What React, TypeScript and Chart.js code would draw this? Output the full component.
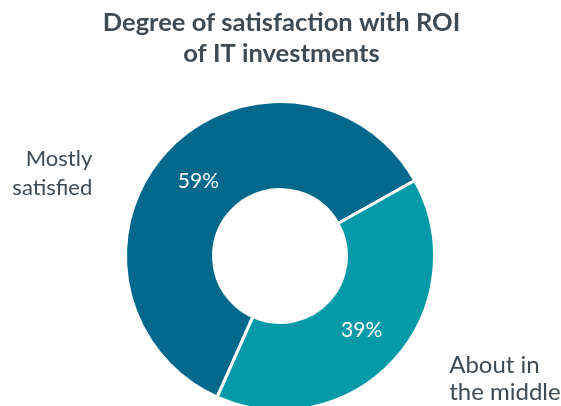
import React, { useEffect, useRef } from "react";
import { Chart, registerables } from "chart.js";

Chart.register(...registerables);

const titleLines = ["Degree of satisfaction with ROI", "of IT investments"];
const categories = ["Mostly satisfied", "About in the middle"];
const categoryLabelLines = [["Mostly", "satisfied"], ["About in", "the middle"]];
const values = [59, 39];
const colors = ["#02688C", "#049AA8"];
const textColor = "#3E4A54";
const FONT = "Lato, 'Open Sans', sans-serif";

const labelPlugin = {
  id: "labelPlugin",
  afterDatasetsDraw(chart: any) {
    const ctx = chart.ctx as CanvasRenderingContext2D;
    const meta = chart.getDatasetMeta(0);
    const arcs = meta.data as any[];
    if (!arcs.length) return;
    ctx.save();
    // Title
    ctx.fillStyle = textColor;
    ctx.font = `bold 25.5px ${FONT}`;
    ctx.textAlign = "center";
    ctx.textBaseline = "alphabetic";
    titleLines.forEach((t, i) => ctx.fillText(t, chart.width / 2 + 1, 31 + i * 31));

    // Percent labels inside slices
    ctx.fillStyle = "#ffffff";
    ctx.font = `21px ${FONT}`;
    ctx.textAlign = "center";
    ctx.textBaseline = "middle";
    arcs.forEach((arc, i) => {
      const p = arc.tooltipPosition();
      ctx.fillText(values[i] + "%", p.x, p.y);
    });

    // Category labels outside
    const a0 = arcs[0];
    const cx = a0.x, cy = a0.y, r = a0.outerRadius;
    ctx.fillStyle = textColor;
    ctx.textBaseline = "alphabetic";
    const placements = [
      { dx: -1.215, dy: -0.58, align: "right" as CanvasTextAlign, size: 22, lh: 29 },
      { dx: 1.095, dy: 0.76, align: "left" as CanvasTextAlign, size: 24, lh: 27 },
    ];
    categoryLabelLines.forEach((lines, i) => {
      const pl = placements[i];
      ctx.textAlign = pl.align;
      ctx.font = `${pl.size}px ${FONT}`;
      lines.forEach((line, j) => {
        ctx.fillText(line, cx + pl.dx * r, cy + pl.dy * r + j * pl.lh);
      });
    });
    ctx.restore();
  },
};

export default function App() {
  const ref = useRef<HTMLCanvasElement | null>(null);
  useEffect(() => {
    document.body.style.margin = "0";
    const chart = new Chart(ref.current!, {
      type: "doughnut",
      data: {
        labels: categories,
        datasets: [
          {
            data: values,
            backgroundColor: colors,
            borderColor: "#ffffff",
            borderWidth: 3,
            clip: false as any,
          } as any,
        ],
      },
      options: {
        animation: false,
        responsive: false,
        rotation: 204,
        radius: 154.5,
        cutout: "43%",
        layout: { padding: { top: 106, bottom: 0, left: 0, right: 1 } },
        plugins: {
          legend: { display: false },
          title: { display: false },
          tooltip: { enabled: false },
        },
      } as any,
      plugins: [labelPlugin],
    });
    return () => chart.destroy();
  }, []);
  return (
    <div style={{ position: "absolute", left: 0, top: 0, width: 561, height: 406, background: "#fff" }}>
      <canvas ref={ref} width={561} height={406} style={{ display: "block" }} />
    </div>
  );
}
